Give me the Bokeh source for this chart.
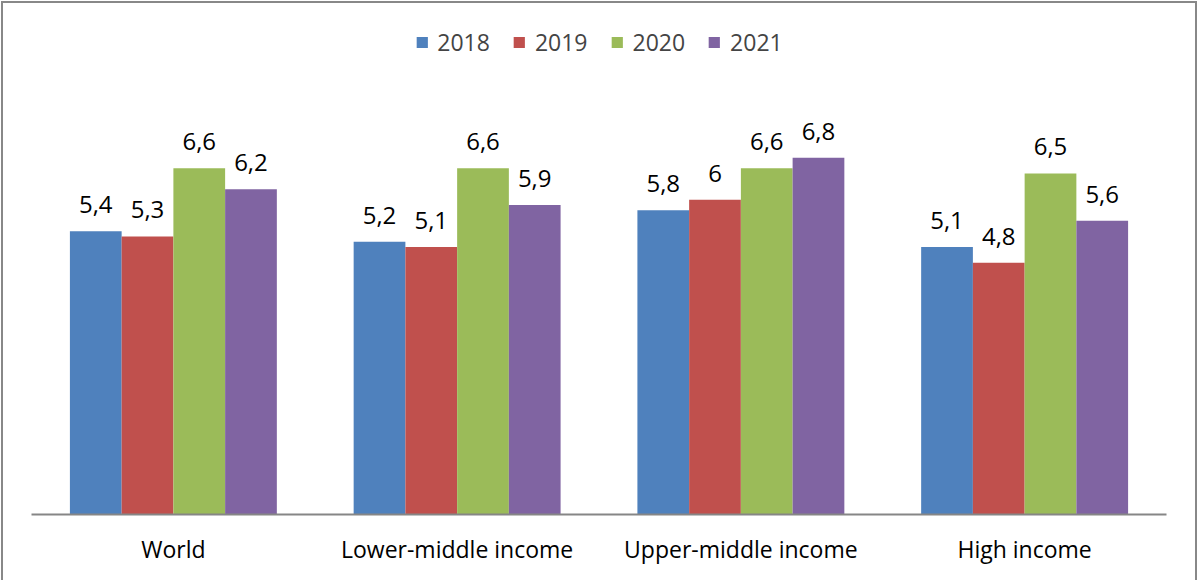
from bokeh.plotting import figure
from bokeh.models import ColumnDataSource, FactorRange, Range1d, Legend, LegendItem, LabelSet
from bokeh.transform import dodge
from bokeh.core.properties import value
from bokeh.embed import file_html
from bokeh.resources import INLINE

categories = ["World", "Lower-middle income", "Upper-middle income", "High income"]
years = ["2018", "2019", "2020", "2021"]
v2018 = [5.4, 5.2, 5.8, 5.1]
v2019 = [5.3, 5.1, 6.0, 4.8]
v2020 = [6.6, 6.6, 6.6, 6.5]
v2021 = [6.2, 5.9, 6.8, 5.6]
colors = ["#4F81BD", "#C0504D", "#9BBB59", "#8064A2"]

series = [v2018, v2019, v2020, v2021]
offsets = [-0.2735, -0.0912, 0.0912, 0.2735]
bar_w = 0.1823

FONT = "Open Sans"

p = figure(x_range=FactorRange(*categories), y_range=Range1d(0, 9.74),
           width=1196, height=579, output_backend="svg", toolbar_location=None,
           min_border_left=28, min_border_right=33, min_border_top=0, min_border_bottom=68)
p.outline_line_color = None
p.xgrid.visible = False
p.ygrid.visible = False
p.yaxis.visible = False
p.x_range.range_padding = 0
p.xaxis.axis_line_color = "#868686"
p.xaxis.axis_line_width = 2
p.xaxis.major_tick_line_color = None
p.xaxis.minor_tick_line_color = None
p.xaxis.major_label_text_font = FONT
p.xaxis.major_label_text_font_size = "23px"
p.xaxis.major_label_text_color = "#000000"
p.xaxis.major_label_standoff = 12

def fmt(v):
    s = ("%.1f" % v)
    if s.endswith(".0"):
        s = s[:-2]
    return s.replace(".", ",")

items = []
for yr, vals, col, off in zip(years, series, colors, offsets):
    src = ColumnDataSource(dict(cat=categories, val=vals, lab=[fmt(v) for v in vals]))
    r = p.vbar(x=dodge("cat", off, range=p.x_range), top="val", width=bar_w, source=src,
               fill_color=col, line_color=None)
    items.append(LegendItem(label=yr, renderers=[r]))
    lbl = LabelSet(x=dodge("cat", off, range=p.x_range), y="val", text="lab", source=src,
                   text_align="center", text_baseline="alphabetic", y_offset=18,
                   text_font=value(FONT), text_font_size="24px", text_color="#000000")
    p.add_layout(lbl)

legend = Legend(items=items, orientation="horizontal", location="top_center",
                label_text_font=FONT, label_text_font_size="23px",
                glyph_width=14, glyph_height=14, spacing=22, label_standoff=9,
                border_line_color=None, background_fill_alpha=0, margin=23, padding=0)
p.add_layout(legend)

p.styles = {"margin-left": "1px", "margin-top": "1px",
            "border-top": "2px solid #888888",
            "border-left": "2px solid #888888",
            "border-right": "2px solid #888888"}

open("out.html", "w").write(file_html(p, INLINE))
